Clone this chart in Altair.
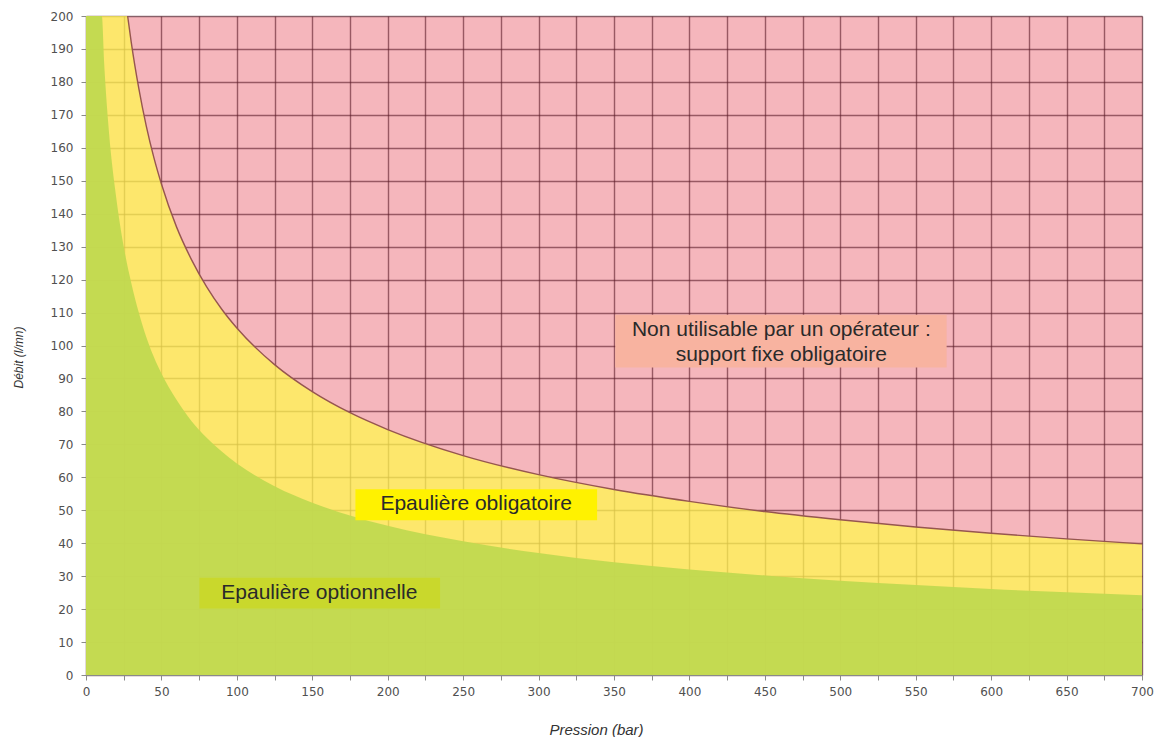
import altair as alt
import pandas as pd

# Boundary between "Epaulière obligatoire" (yellow) and the red zone
red_x = [0, 27.6, 30, 35, 40, 45, 50, 60, 70, 80, 90, 100, 125, 150, 175, 200,
         250, 300, 350, 400, 450, 500, 550, 600, 650, 700]
red_y = [200, 200, 192, 178, 166.5, 157, 149, 136, 126, 117.8, 111, 105.3, 94.2,
         86, 79.6, 74.5, 66.6, 60.8, 56.3, 52.7, 49.6, 47.1, 44.9, 43, 41.3, 39.8]

# Boundary of the green "Epaulière optionnelle" zone
green_x = [0, 10.5, 12, 15, 20, 25, 30, 35, 40, 45, 50, 60, 70, 80, 90, 100, 125,
           150, 175, 200, 250, 300, 350, 400, 450, 500, 550, 600, 650, 700]
green_y = [200, 200, 186, 166, 145, 130, 119, 110, 102.5, 96.5, 91.5, 83.5, 77, 72,
           67.8, 64.2, 57.3, 52.3, 48.4, 45.3, 40.6, 37, 34.2, 32, 30.2, 28.6, 27.3,
           26.1, 25.1, 24.2]

x_ticks = list(range(0, 701, 25))
y_ticks = list(range(0, 201, 10))

# Annotation boxes (data units)
box_x1 = [350.8, 178.6, 75.2]
box_x2 = [570.5, 338.8, 234.7]
box_y1 = [93.3, 47.0, 20.2]
box_y2 = [109.3, 56.4, 29.5]
box_colors = ["#f8b3a0", "#fff200", "#c9d82c"]

label_text = ["Non utilisable par un opérateur :", "support fixe obligatoire",
              "Epaulière obligatoire", "Epaulière optionnelle"]
label_x = [460.9, 460.9, 258.6, 154.7]
label_y = [104.6, 97.2, 51.8, 24.9]

df_red = pd.DataFrame({"x": red_x, "y": red_y})
df_red_line = df_red[df_red["x"] > 20]
df_green = pd.DataFrame({"x": green_x, "y": green_y})
df_box = pd.DataFrame({"x": box_x1, "x2": box_x2, "y": box_y1, "y2": box_y2, "c": box_colors})
df_lab = pd.DataFrame({"x": label_x, "y": label_y, "t": label_text})

X = alt.X("x:Q",
          scale=alt.Scale(domain=[0, 700], nice=False, zero=False),
          axis=alt.Axis(values=x_ticks,
                        labelExpr="datum.value % 50 === 0 ? datum.label : ''",
                        labelOverlap=False, labelFlush=False,
                        title="Pression (bar)", titleX=510, titleY=54,
                        titleAlign="center", titleBaseline="middle"))
Y = alt.Y("y:Q",
          scale=alt.Scale(domain=[0, 200], nice=False),
          axis=alt.Axis(values=y_ticks, labelOverlap=False,
                        title="Débit (l/mn)", titleX=-68, titleY=341,
                        titleAlign="center", titleBaseline="middle"))

yellow = alt.Chart(df_red).mark_area(color="#fff850", opacity=0.74,
                                     interpolate="monotone", clip=True).encode(x=X, y=Y)
green = alt.Chart(df_green).mark_area(color="#c0d950", opacity=0.94,
                                      interpolate="monotone", clip=True).encode(x=X, y=Y)
redline = alt.Chart(df_red_line).mark_line(color="#96564f", strokeWidth=1.4,
                                           interpolate="monotone", clip=True).encode(x=X, y=Y)
boxes = alt.Chart(df_box).mark_rect().encode(
    x=X, x2="x2:Q", y=Y, y2="y2:Q", color=alt.Color("c:N", scale=None))
labels = alt.Chart(df_lab).mark_text(font="Liberation Sans", fontSize=21,
                                     color="#2a2a2a", align="center",
                                     baseline="middle").encode(x=X, y=Y, text="t:N")

chart = alt.layer(yellow, green, redline, boxes, labels).properties(
    width=1056, height=659,
    autosize=alt.AutoSizeParams(type="none"),
    padding={"left": 78, "top": 8, "right": 12, "bottom": 62},
).configure_view(
    fill="#f5b6bc", stroke="#c8c8c8", strokeWidth=1
).configure_axis(
    grid=True, gridColor="#5a1a28", gridOpacity=0.6, gridWidth=1.4,
    domainColor="#8a8a8a", domainWidth=1.2,
    tickColor="#8a8a8a", tickSize=5, tickWidth=1,
    labelFont="DejaVu Sans", labelFontSize=12, labelColor="#505050",
    titleFont="Liberation Sans", titleFontStyle="italic", titleFontWeight="normal",
    titleColor="#333333"
).configure_axisX(
    labelPadding=6, titleFontSize=15
).configure_axisY(
    labelPadding=8, titleFontSize=12
)

chart.save("out.html", embed_options={"renderer": "svg", "actions": False})
